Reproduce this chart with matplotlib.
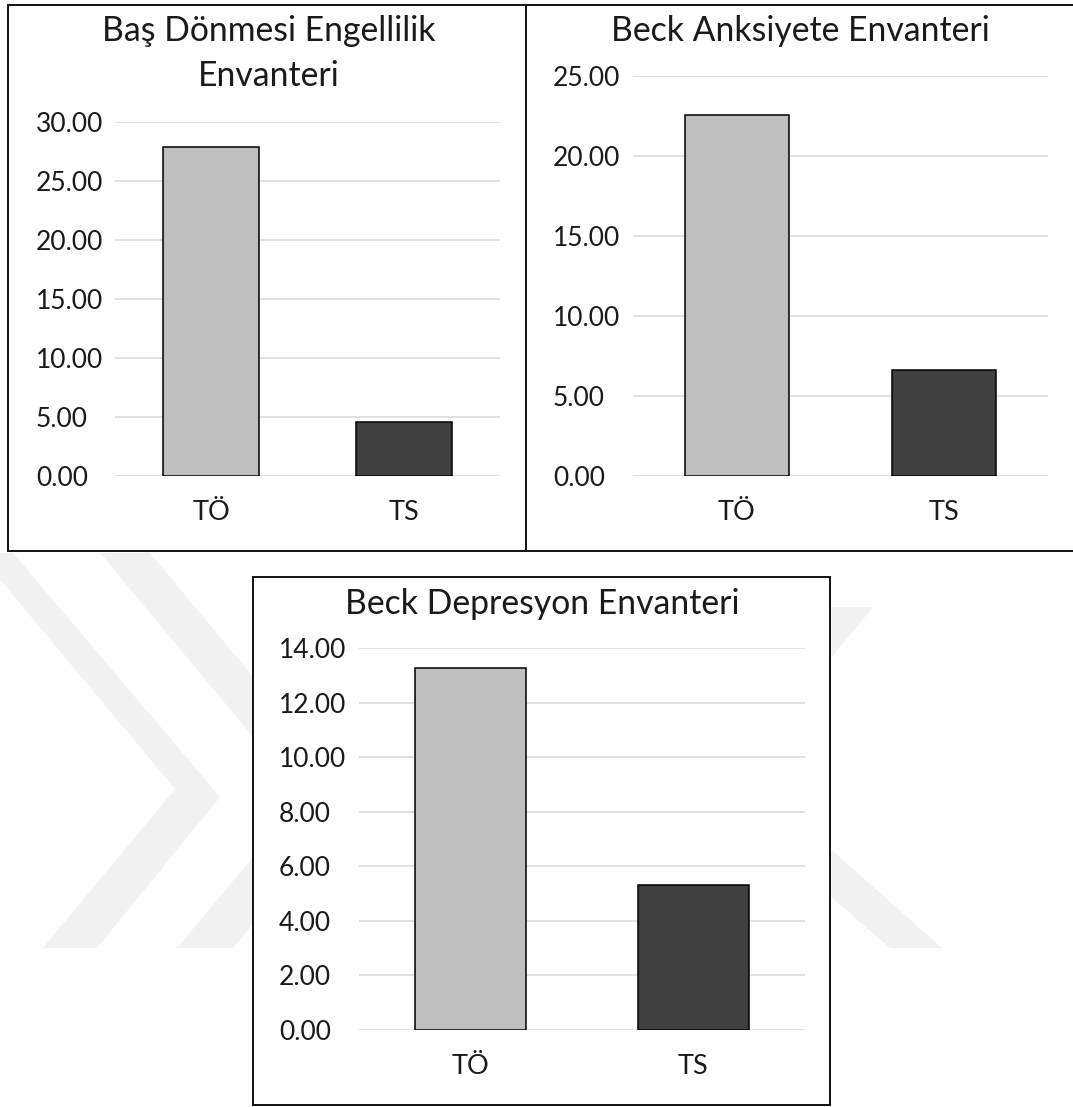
import matplotlib
matplotlib.use("Agg")
import matplotlib.pyplot as plt
from matplotlib.patches import Rectangle, Polygon

# ---- data -------------------------------------------------------------
categories = ["TÖ", "TS"]

dizziness_values = [27.85, 4.6]      # Baş Dönmesi Engellilik Envanteri
anxiety_values = [22.55, 6.65]       # Beck Anksiyete Envanteri
depression_values = [13.25, 5.3]     # Beck Depresyon Envanteri

dizziness_ticks = [0, 5, 10, 15, 20, 25, 30]
anxiety_ticks = [0, 5, 10, 15, 20, 25]
depression_ticks = [0, 2, 4, 6, 8, 10, 12, 14]

titles = ["Baş Dönmesi Engellilik", "Envanteri",
          "Beck Anksiyete Envanteri", "Beck Depresyon Envanteri"]

bar_colors = ["#bfbfbf", "#404040"]

# ---- canvas -----------------------------------------------------------
W, H = 1073, 1107
fig = plt.figure(figsize=(W / 100, H / 100), dpi=100)
FONT = ["Lato", "DejaVu Sans"]
TEXT_COLOR = "#1a1a1a"


def fx(x):
    return x / W


def fy(y):
    return 1 - y / H


def fig_poly(points, **kw):
    pts = [(fx(x), fy(y)) for x, y in points]
    fig.add_artist(Polygon(pts, closed=True, transform=fig.transFigure, **kw))


def fig_box(x0, y0, x1, y1):
    fig.add_artist(Rectangle((fx(x0), fy(y1)), fx(x1) - fx(x0), fy(y0) - fy(y1),
                             transform=fig.transFigure, facecolor="white",
                             edgecolor="#111111", linewidth=1.4, zorder=-1))


# faint background emblem
wm = dict(facecolor="#f1f1f1", edgecolor="none", zorder=-2)
fig_poly([(-22, 553), (13, 553), (220, 797), (97, 948), (43, 948), (175, 789)], **wm)
fig_poly([(100, 553), (150, 553), (356, 800), (233, 948), (177, 948), (303, 797)], **wm)
fig_poly([(800, 607), (873, 607), (800, 695)], **wm)
fig_poly([(800, 822), (942, 948), (890, 948), (800, 870)], **wm)

# panel frames
fig_box(8, 5, 526, 551)
fig_box(526, 5, 1076, 551)
fig_box(253, 577, 830, 1105)


def make_chart(left, right, top, bottom, values, ticks, label_gap):
    ax = fig.add_axes([fx(left), fy(bottom), fx(right) - fx(left), fy(top) - fy(bottom)])
    ax.set_facecolor("none")
    x = range(len(categories))
    ax.bar(x, values, width=0.5, color=bar_colors, edgecolor="black",
           linewidth=1.1, zorder=3)
    ax.set_xlim(-0.5, len(categories) - 0.5)
    ax.set_ylim(ticks[0], ticks[-1])
    ax.set_yticks(ticks, labels=[f"{t:.2f}" for t in ticks])
    ax.set_xticks(list(x), labels=categories)
    ax.grid(axis="y", color="#d9d9d9", linewidth=1.1, zorder=0)
    ax.set_axisbelow(True)
    for s in ax.spines.values():
        s.set_visible(False)
    ax.tick_params(axis="y", length=0, pad=label_gap * 0.72, labelsize=19,
                   labelcolor=TEXT_COLOR)
    ax.tick_params(axis="x", length=0, pad=17, labelsize=19.5, labelcolor=TEXT_COLOR)
    for lbl in ax.get_yticklabels():
        lbl.set_horizontalalignment("left")
        lbl.set_fontfamily(FONT)
    for lbl in ax.get_xticklabels():
        lbl.set_fontfamily(FONT)
    return ax


make_chart(115, 500, 122, 476, dizziness_values, dizziness_ticks, 79)
make_chart(633, 1048, 76, 476, anxiety_values, anxiety_ticks, 80)
make_chart(359, 805, 648, 1030, depression_values, depression_ticks, 80)

title_kw = dict(ha="center", va="baseline", fontsize=24.3, color=TEXT_COLOR, family=FONT)
fig.text(fx(269), fy(41), titles[0], **title_kw)
fig.text(fx(269), fy(86), titles[1], **title_kw)
fig.text(fx(800), fy(41), titles[2], **title_kw)
fig.text(fx(542), fy(614), titles[3], **title_kw)

fig.savefig("out.png", dpi=100, facecolor="white")
